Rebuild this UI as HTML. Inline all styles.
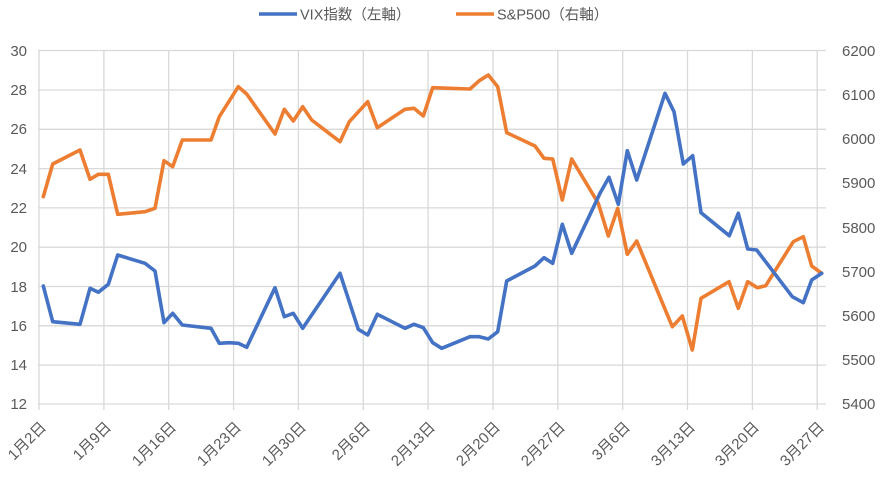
<!DOCTYPE html>
<html><head><meta charset="utf-8"><style>
html,body{margin:0;padding:0;background:#fff;}
svg{display:block;font-family:"Liberation Sans","Noto Sans CJK JP",sans-serif;}
</style></head><body>
<svg width="886" height="477" viewBox="0 0 886 477" xmlns="http://www.w3.org/2000/svg">
<rect width="886" height="477" fill="#fff"/>
<g stroke="#d9d9d9" stroke-width="1.3" fill="none">
<line x1="38" y1="50.5" x2="826" y2="50.5"/>
<line x1="38" y1="90" x2="826" y2="90"/>
<line x1="38" y1="129.3" x2="826" y2="129.3"/>
<line x1="38" y1="168.6" x2="826" y2="168.6"/>
<line x1="38" y1="207.9" x2="826" y2="207.9"/>
<line x1="38" y1="247.2" x2="826" y2="247.2"/>
<line x1="38" y1="286.5" x2="826" y2="286.5"/>
<line x1="38" y1="325.8" x2="826" y2="325.8"/>
<line x1="38" y1="365.1" x2="826" y2="365.1"/>
<line x1="38" y1="404" x2="826" y2="404"/>
<line x1="39" y1="50" x2="39" y2="410"/>
<line x1="103.9" y1="50" x2="103.9" y2="410"/>
<line x1="168.7" y1="50" x2="168.7" y2="410"/>
<line x1="233.6" y1="50" x2="233.6" y2="410"/>
<line x1="298.4" y1="50" x2="298.4" y2="410"/>
<line x1="363.3" y1="50" x2="363.3" y2="410"/>
<line x1="428.1" y1="50" x2="428.1" y2="410"/>
<line x1="493" y1="50" x2="493" y2="410"/>
<line x1="557.8" y1="50" x2="557.8" y2="410"/>
<line x1="622.7" y1="50" x2="622.7" y2="410"/>
<line x1="687.5" y1="50" x2="687.5" y2="410"/>
<line x1="752.4" y1="50" x2="752.4" y2="410"/>
<line x1="817.2" y1="50" x2="817.2" y2="410"/>
</g>
<g font-size="15" fill="#595959" text-anchor="end">
<text x="27" y="56">30</text><text x="27" y="95">28</text><text x="27" y="134">26</text><text x="27" y="174">24</text><text x="27" y="213">22</text><text x="27" y="252">20</text><text x="27" y="292">18</text><text x="27" y="331">16</text><text x="27" y="370">14</text><text x="27" y="409">12</text>
</g>
<g font-size="15" fill="#595959" text-anchor="start">
<text x="842" y="56">6200</text><text x="842" y="100">6100</text><text x="842" y="144">6000</text><text x="842" y="188">5900</text><text x="842" y="233">5800</text><text x="842" y="277">5700</text><text x="842" y="321">5600</text><text x="842" y="365">5500</text><text x="842" y="409">5400</text>
</g>
<g font-size="15" fill="#595959" text-anchor="end">
<text transform="translate(47,428) rotate(-45)">1月2日</text>
<text transform="translate(112,428) rotate(-45)">1月9日</text>
<text transform="translate(177,428) rotate(-45)">1月16日</text>
<text transform="translate(242,428) rotate(-45)">1月23日</text>
<text transform="translate(307,428) rotate(-45)">1月30日</text>
<text transform="translate(371,428) rotate(-45)">2月6日</text>
<text transform="translate(436,428) rotate(-45)">2月13日</text>
<text transform="translate(501,428) rotate(-45)">2月20日</text>
<text transform="translate(566,428) rotate(-45)">2月27日</text>
<text transform="translate(631,428) rotate(-45)">3月6日</text>
<text transform="translate(696,428) rotate(-45)">3月13日</text>
<text transform="translate(760,428) rotate(-45)">3月20日</text>
<text transform="translate(825,428) rotate(-45)">3月27日</text>
</g>
<polyline fill="none" stroke="#ed7d31" stroke-width="3.6" stroke-linejoin="round" stroke-linecap="round" points="43.3,196.7 52.7,164 80,150 90,179.3 98.3,174.3 108.3,174.3 117.7,214.3 145,211.7 155,208.3 164,160.7 172.7,166.7 182.3,140 211,140 219.3,116.7 238.3,86.7 246.7,94 275,134 284.3,109.3 293.3,121 302.7,106.7 311.7,120 340,141.7 349.3,121.7 367.7,101.7 377.3,127.7 405,109.3 414,108.3 423.3,116 432.7,87.7 470,89 479.3,80.7 488.3,75 497.7,86.7 506.7,132.7 535,146 544,158.3 552.7,159 562.3,200 571.7,159 598.3,203.3 608.3,236 617.7,208.3 627.3,254.3 636.7,241 672.3,326.7 682.3,316 692.3,350 701,298.3 729,281.7 738.3,308.3 747.7,281.7 757.3,287.7 765.7,285.7 793.3,241.7 803.3,236.7 811.7,266 821.7,273.3"/>
<polyline fill="none" stroke="#4472c4" stroke-width="3.6" stroke-linejoin="round" stroke-linecap="round" points="43.3,286 52.7,321.7 80,324.3 90,288.3 98.3,292.3 108.3,284.3 117.7,255 145,263.3 155,271 164,322.7 172.7,313.3 182.3,325 211,328.3 219.3,343.3 229.3,342.7 238.3,343.3 246.7,347.3 275,287.7 284.3,316.7 293.3,313.3 302.7,328.3 340,273.3 358.3,329.3 367.7,335 377.3,314.3 405,328.3 414,324.3 423.3,327.7 432.7,342.7 441.7,348.3 470,336.7 479.3,336.7 488.3,339 497.7,331.7 506.7,281 535,266 544,257.7 552.7,263.3 562.3,224.3 571.7,253.3 600,193.3 609,177.3 618.3,204.3 627.3,150.7 636.7,180 665,93.3 674,111.7 683.3,164 692.7,155.7 701,212.7 729.3,235.7 738.3,213.3 747.7,249 756.7,250 792.3,296.7 803.3,302.7 811.7,280 821.7,273.3"/>
<line x1="259" y1="14" x2="297" y2="14" stroke="#4472c4" stroke-width="3.6"/>
<text x="300" y="19.5" font-size="14.5" fill="#595959">VIX指数（左軸）</text>
<line x1="456" y1="14" x2="494" y2="14" stroke="#ed7d31" stroke-width="3.6"/>
<text x="497" y="19.5" font-size="14.5" fill="#595959">S&amp;P500（右軸）</text>
</svg>
</body></html>
